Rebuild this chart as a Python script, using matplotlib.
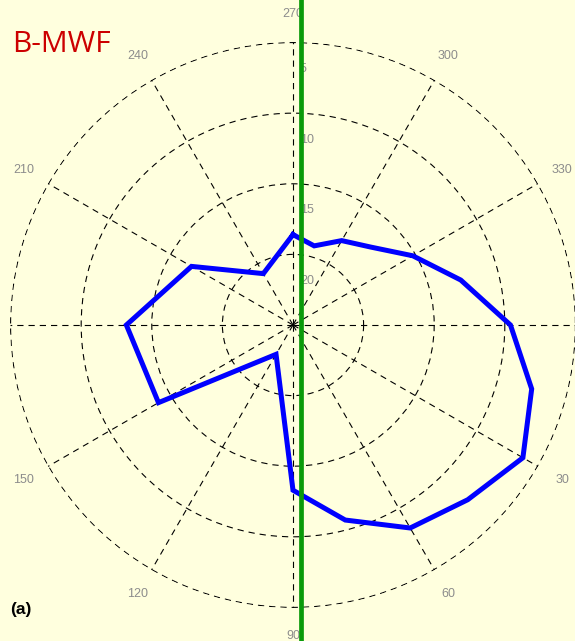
import numpy as np
import matplotlib
matplotlib.use("Agg")
import matplotlib.pyplot as plt

# beam pattern (attenuation), angle in degrees
angles_deg = [270, 285, 300, 315, 330, 345, 0, 15, 30, 45, 60, 75, 90, 120, 150, 180, 210, 240]
level = [18.6, 19.2, 18.1, 17.2, 15.2, 12.7, 9.6, 7.5, 6.2, 7.5, 8.4, 10.7, 13.3, 22.6, 14.0, 13.2, 16.7, 20.8]

ring_values = [5, 10, 15, 20]
ring_labels = ['5', '10', '15', '20']
spoke_angles = list(range(0, 360, 30))
# 0 and 180 fall outside the canvas, leave them blank
spoke_labels = ['' if a in (0, 180) else str(a) for a in spoke_angles]

# look direction marker, as fraction of plot radius from centre
steer_offset = 0.028

bg = '#FFFFDE'
grey = '#8c8c8c'
plt.rcParams['font.family'] = ['Liberation Sans', 'DejaVu Sans']
plt.rcParams['lines.scale_dashes'] = False

fig = plt.figure(figsize=(5.75, 6.41), dpi=100, facecolor=bg)
rect = [0.0174, 0.0515, 0.9843, 0.883]
ax = fig.add_axes(rect, projection='polar', facecolor=bg)
ax.set_theta_zero_location('E')
ax.set_theta_direction(-1)
ax.set_ylim(25, 4.96)

theta = np.deg2rad(angles_deg + angles_deg[:1])
r = level + level[:1]
ax.plot(theta, r, color='#0000FF', linewidth=3.6, solid_joinstyle='miter', zorder=3)

ax.set_thetagrids(spoke_angles, labels=spoke_labels, color=grey, fontsize=9)
ax.tick_params(axis='x', pad=9.5)
ax.set_yticks(ring_values)
ax.set_yticklabels([])
ax.grid(True, color='black', linestyle=(0, (4.5, 3.6)), linewidth=0.8)
ax.spines['polar'].set_visible(False)

for v, lab in zip(ring_values, ring_labels):
    ax.annotate(lab, xy=(np.deg2rad(270), v), xytext=(5, -19), textcoords='offset points',
                ha='left', va='center', color=grey, fontsize=9, annotation_clip=False)

# vertical look-direction line on a cartesian overlay
ov = fig.add_axes(rect, facecolor='none')
ov.set_xlim(-1, 1)
ov.set_ylim(-1, 1)
ov.axis('off')
ov.axvline(steer_offset, ymin=-0.2, ymax=1.2, color='#0A9A0A', linewidth=3.4, clip_on=False)

fig.text(12 / 575, 1 - 52 / 641, 'B-MWF', color='#CC0000', fontsize=21.5,
         family=['Open Sans', 'DejaVu Sans'], ha='left', va='baseline')
fig.text(10 / 575, 1 - 614 / 641, '(a)', color='black', fontsize=12.5,
         fontweight='bold', ha='left', va='baseline')

fig.savefig('out.png', dpi=100, facecolor=bg)
